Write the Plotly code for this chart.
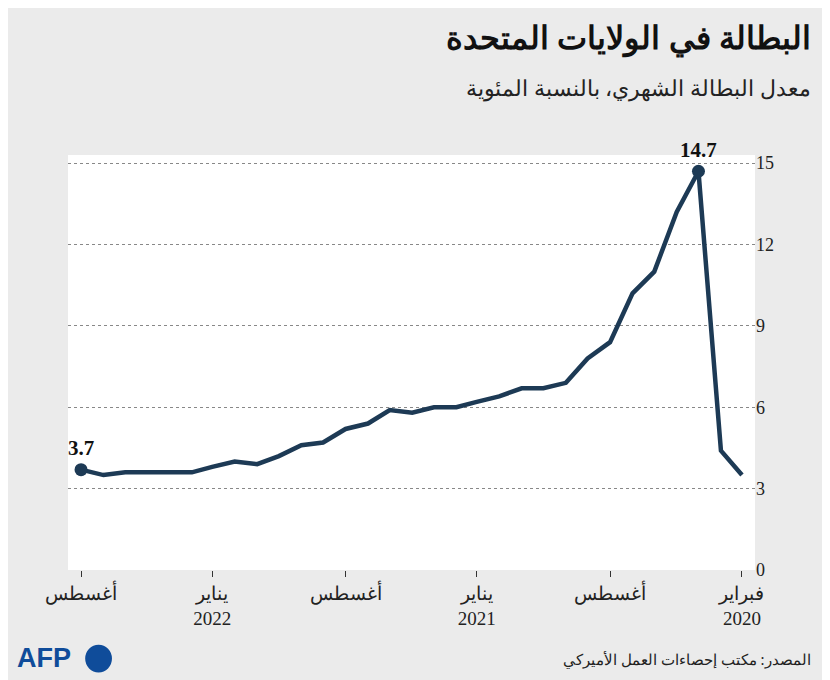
import plotly.graph_objects as go
import pandas as pd

months = pd.date_range("2020-02-01", "2022-08-01", freq="MS").strftime("%Y-%m-%d").tolist()
rates = [3.5, 4.4, 14.7, 13.2, 11.0, 10.2, 8.4, 7.8, 6.9, 6.7, 6.7, 6.4, 6.2, 6.0, 6.0, 5.8,
         5.9, 5.4, 5.2, 4.7, 4.6, 4.2, 3.9, 4.0, 3.8, 3.6, 3.6, 3.6, 3.6, 3.5, 3.7]
tick_dates = ["2020-02-01", "2020-08-01", "2021-02-01", "2021-08-01", "2022-02-01", "2022-08-01"]
tick_text = ["فبراير<br>2020", "أغسطس<br> ", "يناير<br>2021", "أغسطس<br> ", "يناير<br>2022", "أغسطس<br> "]
y_ticks = [0, 3, 6, 9, 12, 15]

C = "#1d3a55"
fig = go.Figure()
fig.add_trace(go.Scatter(x=months, y=rates, mode="lines", line=dict(color=C, width=4.5),
                         hoverinfo="skip"))
fig.add_trace(go.Scatter(x=[months[-1], months[2]], y=[rates[-1], rates[2]], mode="markers+text",
                         marker=dict(color=C, size=13), cliponaxis=False,
                         text=["<b>3.7</b>", "<b>14.7</b>"], textposition="top center",
                         textfont=dict(family="Liberation Serif", size=21, color="#111")))

fig.update_layout(
    width=830, height=680, paper_bgcolor="#ebebeb", plot_bgcolor="white",
    margin=dict(l=60, r=83, t=147, b=118), showlegend=False,
    font=dict(family="Noto Sans", color="#222"),
    xaxis=dict(type="date", range=["2022-08-19", "2020-01-14"], tickvals=tick_dates, ticktext=tick_text,
               showgrid=False, ticks="outside", ticklen=6, tickcolor="#333", zeroline=False,
               tickfont=dict(family="Liberation Serif", size=19, color="#222"), showline=False),
    yaxis=dict(range=[0, 15.3], tickvals=y_ticks, side="right", showgrid=True, gridcolor="#888",
               griddash="dot", gridwidth=1, zeroline=False,
               tickfont=dict(family="Liberation Serif", size=18, color="#222")),
    annotations=[
        dict(text="<b>البطالة في الولايات المتحدة</b>", x=1.085, y=1.285, xref="paper", yref="paper",
             xanchor="right", yanchor="middle", showarrow=False, font=dict(size=32, color="#111")),
        dict(text="معدل البطالة الشهري، بالنسبة المئوية", x=1.085, y=1.165, xref="paper", yref="paper",
             xanchor="right", yanchor="middle", showarrow=False, font=dict(size=22, color="#222")),
        dict(text="المصدر: مكتب إحصاءات العمل الأميركي", x=1.085, y=-0.215, xref="paper", yref="paper",
             xanchor="right", yanchor="middle", showarrow=False, font=dict(size=15, color="#222")),
        dict(text="<b>AFP</b>", x=-0.035, y=-0.213, xref="paper", yref="paper",
             xanchor="center", yanchor="middle", showarrow=False,
             font=dict(family="Liberation Sans", size=27, color="#0f4c9a")),
    ],
    shapes=[dict(type="circle", xref="paper", yref="paper", x0=0.025, x1=0.064, y0=-0.247, y1=-0.18,
                 fillcolor="#0f4c9a", line=dict(width=0))],
)
fig.write_html("out.html")
